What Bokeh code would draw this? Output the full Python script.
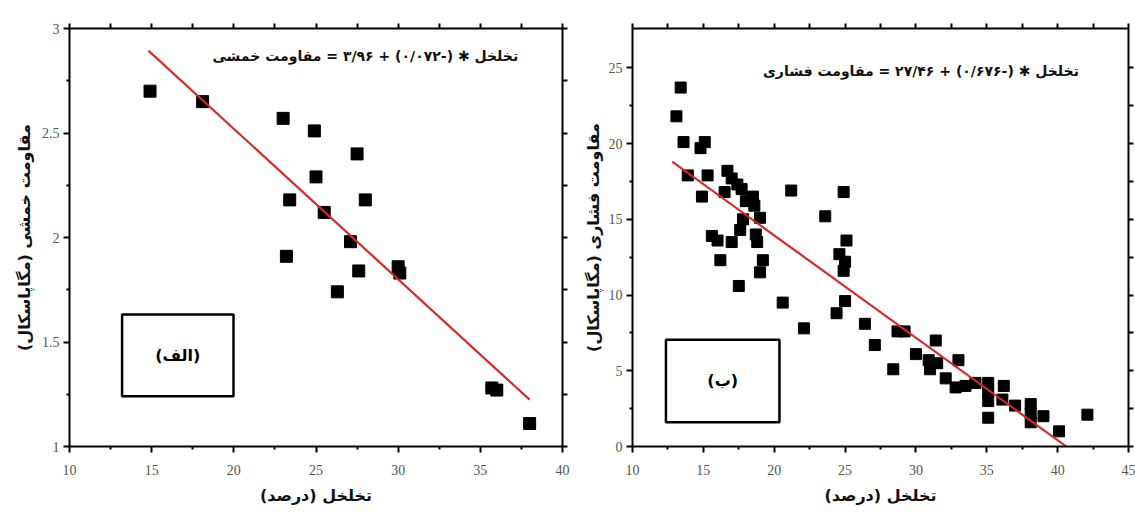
from bokeh.plotting import figure
from bokeh.models import Range1d, LinearAxis, FixedTicker
from bokeh.layouts import row
from bokeh.core.properties import value
from bokeh.embed import file_html
from bokeh.resources import INLINE

# ---------------- data ----------------
# panel (الف): porosity (%) vs flexural strength (MPa)
left_porosity = [14.9, 18.1, 23.0, 24.9, 27.5, 25.0, 23.4, 28.0, 25.5, 27.1,
                 23.2, 27.6, 30.0, 30.1, 26.3, 35.7, 36.0, 38.0]
left_flexural = [2.70, 2.65, 2.57, 2.51, 2.40, 2.29, 2.18, 2.18, 2.12, 1.98,
                 1.91, 1.84, 1.86, 1.83, 1.74, 1.28, 1.27, 1.11]

# panel (ب): porosity (%) vs compressive strength (MPa)
right_porosity = [13.1, 13.4, 13.6, 14.8, 15.1, 13.9, 15.3, 14.9, 16.7, 17.0,
                  17.4, 17.7, 16.5, 18.5, 18.0, 18.6, 19.0, 17.8, 21.2, 24.9,
                  23.6, 15.6, 16.0, 17.0, 17.6, 18.7, 18.8, 16.2, 19.2, 19.0,
                  17.5, 20.6, 22.1, 25.1, 24.6, 25.0, 24.9, 25.0, 24.4, 26.4,
                  27.1, 28.7, 29.2, 28.4, 30.0, 31.4, 30.9, 31.0, 31.5, 32.1,
                  33.0, 32.8, 33.5, 34.2, 35.1, 35.1, 35.1, 35.1, 36.2, 36.1,
                  37.0, 38.1, 38.1, 38.1, 39.0, 40.1, 42.1]
right_compressive = [21.8, 23.7, 20.1, 19.7, 20.1, 17.9, 17.9, 16.5, 18.2, 17.7,
                     17.3, 17.0, 16.8, 16.5, 16.2, 15.9, 15.1, 15.0, 16.9, 16.8,
                     15.2, 13.9, 13.6, 13.5, 14.3, 14.0, 13.5, 12.3, 12.3, 11.5,
                     10.6, 9.5, 7.8, 13.6, 12.7, 12.2, 11.6, 9.6, 8.8, 8.1,
                     6.7, 7.6, 7.6, 5.1, 6.1, 7.0, 5.7, 5.1, 5.5, 4.5,
                     5.7, 3.9, 4.0, 4.2, 4.2, 3.6, 3.0, 1.9, 4.0, 3.1,
                     2.7, 2.8, 2.2, 1.6, 2.0, 1.0, 2.1]

# regression fits: strength = intercept + slope * porosity
left_fit_intercept, left_fit_slope = 3.96, -0.072
right_fit_intercept, right_fit_slope = 27.46, -0.676
left_fit_span = [14.8, 38.0]
right_fit_span = [12.8, 40.6]

# ticks
left_x_ticks = [10, 15, 20, 25, 30, 35, 40]
left_x_labels = ["10", "15", "20", "25", "30", "35", "40"]
left_y_ticks = [1.0, 1.5, 2.0, 2.5, 3.0]
left_y_labels = ["1", "1.5", "2", "2.5", "3"]
right_x_ticks = [10, 15, 20, 25, 30, 35, 40, 45]
right_x_labels = ["10", "15", "20", "25", "30", "35", "40", "45"]
right_y_ticks = [0, 5, 10, 15, 20, 25]
right_y_labels = ["0", "5", "10", "15", "20", "25"]

# texts (wrapped in a right-to-left embedding)
RLE, PDF = "\u202b", "\u202c"


def rtl(s):
    return RLE + s + PDF


x_title = rtl("تخلخل (درصد)")
left_y_title = rtl("مقاومت خمشی (مگاپاسکال)")
right_y_title = rtl("مقاومت فشاری (مگاپاسکال)")
left_equation = rtl("تخلخل ✱ (-۰/۰۷۲) + ۳/۹۶ = مقاومت خمشی")
right_equation = rtl("تخلخل ✱ (-۰/۶۷۶) + ۲۷/۴۶ = مقاومت فشاری")
left_tag = rtl("(الف)")
right_tag = rtl("(ب)")

# annotation placement (data units)
left_eq_pos = (37.3, 2.87)
right_eq_pos = (41.5, 24.8)
left_box = dict(left=13.2, right=19.98, bottom=1.24, top=1.632)
right_box = dict(left=12.36, right=20.37, bottom=1.6, top=7.05)

AR_FONT = "DejaVu Sans"
TICK_FONT = "Liberation Serif"


def minors(ticks):
    return [(a + b) / 2 for a, b in zip(ticks[:-1], ticks[1:])]


def style_common(ax):
    ax.axis_line_width = 2
    ax.axis_line_color = "black"
    ax.major_tick_line_width = 2
    ax.major_tick_line_color = "black"
    ax.major_tick_out = 6
    ax.major_tick_in = 0
    ax.minor_tick_line_width = 2
    ax.minor_tick_line_color = "black"
    ax.minor_tick_in = 0


def style_main_axis(ax, ticks, labels, standoff, title_standoff):
    style_common(ax)
    ax.ticker = FixedTicker(ticks=ticks, minor_ticks=minors(ticks))
    ax.minor_tick_out = 3
    ax.major_label_overrides = {t: l for t, l in zip(ticks, labels)}
    ax.major_label_text_font = TICK_FONT
    ax.major_label_text_font_size = "14px"
    ax.major_label_text_color = "#555555"
    ax.major_label_standoff = standoff
    ax.axis_label_text_font = AR_FONT
    ax.axis_label_text_font_style = "bold"
    ax.axis_label_text_font_size = "16px"
    ax.axis_label_text_color = "#111111"
    ax.axis_label_standoff = title_standoff


def mirror_axis(ticks):
    # label-free axis: every tick drawn as a (minor) tick so no labels exist
    ax = LinearAxis()
    style_common(ax)
    ax.ticker = FixedTicker(ticks=[], minor_ticks=sorted(ticks + minors(ticks)))
    ax.minor_tick_out = 5
    return ax


def make_panel(width, height, xr, yr, borders, ystand, xt, xl, yt, yl, ytitle,
               px, py, msize, fit_b, fit_m, span, eq, eq_pos, box, tag):
    p = figure(width=width, height=height, x_range=Range1d(*xr), y_range=Range1d(*yr),
               output_backend="svg", toolbar_location=None, tools="")
    p.min_border_left, p.min_border_right, p.min_border_top, p.min_border_bottom = borders
    p.xgrid.visible = False
    p.ygrid.visible = False
    p.outline_line_color = None
    p.background_fill_color = "white"
    p.border_fill_color = "white"

    p.xaxis.axis_label = x_title
    p.yaxis.axis_label = ytitle
    style_main_axis(p.xaxis[0], xt, xl, standoff=12, title_standoff=8)
    style_main_axis(p.yaxis[0], yt, yl, standoff=4, title_standoff=ystand)
    p.add_layout(mirror_axis(xt), "above")
    p.add_layout(mirror_axis(yt), "right")

    p.quad(left=[box["left"]], right=[box["right"]], bottom=[box["bottom"]], top=[box["top"]],
           fill_color=None, line_color="black", line_width=2.5)
    p.text(x=[(box["left"] + box["right"]) / 2], y=[(box["bottom"] + box["top"]) / 2], text=[tag],
           text_align="center", text_baseline="middle", text_font=value(AR_FONT),
           text_font_style="bold", text_font_size="16px", text_color="black")

    p.scatter(px, py, marker="square", size=msize, fill_color="black", line_color="black")
    fx = list(span)
    fy = [fit_b + fit_m * v for v in fx]
    p.line(fx, fy, line_color="#d8282a", line_width=2.2)

    p.text(x=[eq_pos[0]], y=[eq_pos[1]], text=[eq], text_align="right", text_baseline="middle",
           text_font=value(AR_FONT), text_font_style="bold", text_font_size="14px",
           text_color="#111111")
    return p


H = 517
p1 = make_panel(580, H, (10, 40), (1, 3), (69, 18, 22, 71), 5,
                left_x_ticks, left_x_labels, left_y_ticks, left_y_labels, left_y_title,
                left_porosity, left_flexural, 12, left_fit_intercept, left_fit_slope,
                left_fit_span, left_equation, left_eq_pos, left_box, left_tag)
p2 = make_panel(555, H, (10, 45), (0, 27.6), (52, 7, 28, 70), 3,
                right_x_ticks, right_x_labels, right_y_ticks, right_y_labels, right_y_title,
                right_porosity, right_compressive, 11, right_fit_intercept, right_fit_slope,
                right_fit_span, right_equation, right_eq_pos, right_box, right_tag)

layout = row(p1, p2)
open("out.html", "w").write(file_html(layout, INLINE))
